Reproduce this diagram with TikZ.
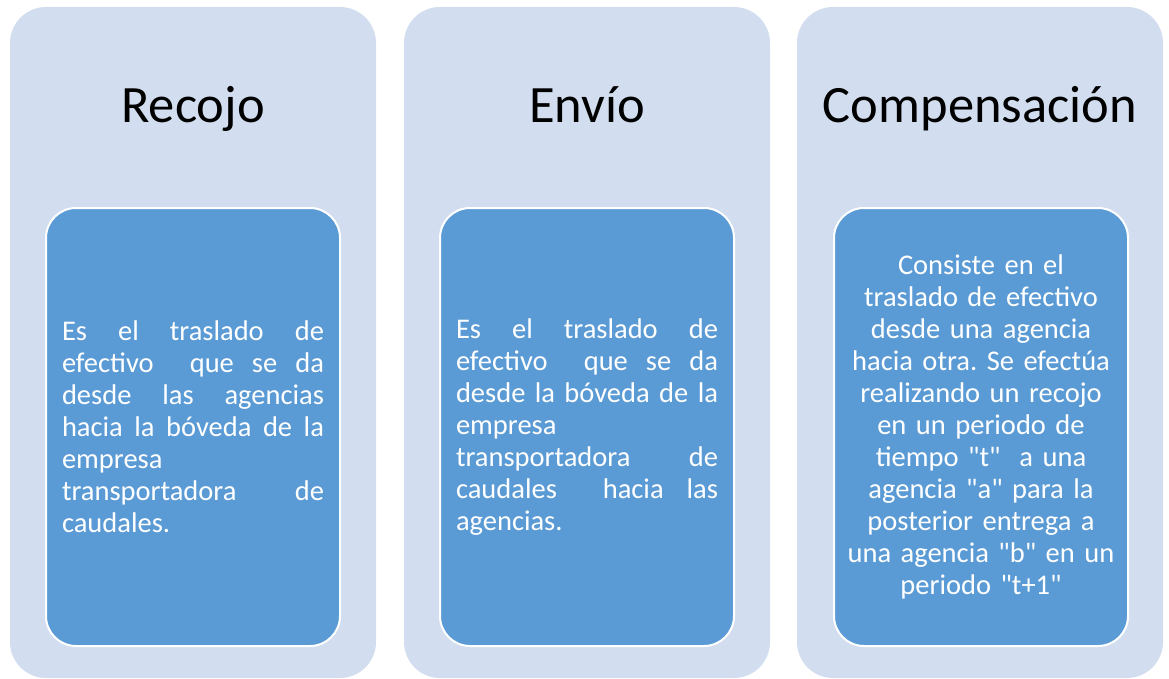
\documentclass[tikz,border=0pt]{standalone}
\usepackage{fontspec}
\setmainfont{Carlito}[Ligatures=TeXOff]
\definecolor{fondo}{HTML}{D2DEEF}
\definecolor{azul}{HTML}{5B9BD5}
\newcommand{\jl}[1]{{\spaceskip=0.25em plus 1fil\xspaceskip=0.25em plus 1fil\makebox[262pt][s]{#1}}}
\newcommand{\dsp}{\hspace{0.5em plus 2fil}}
\tikzset{caja/.style={fill=fondo, rounded corners=36pt, minimum width=366pt, minimum height=671pt, inner sep=0pt},
panel/.style={fill=azul, draw=white, line width=2pt, rounded corners=30pt, minimum width=294pt, minimum height=438pt, inner sep=0pt, text=white, text width=262pt, font=\fontsize{28.5}{32}\selectfont\frenchspacing},
titulo/.style={anchor=base, font=\fontsize{52.5}{60}\selectfont}}
\begin{document}
\begin{tikzpicture}[x=1pt, y=-1pt]
\useasboundingbox (0,0) rectangle (1169,679);
\node[caja] (recojo) at (193,342.5) {};\node[caja] (envio) at (587,342.5) {};\node[caja] (compensacion) at (980,342.5) {};
\node[titulo] (t1) at (193,123) {Recojo};\node[titulo] (t2) at (587,123) {Envío};\node[titulo] (t3) at (980,123) {Compensación};
\node[panel, align=left] (p1) at (193,427) {\jl{Es el traslado de}\\\jl{efectivo\dsp que se da}\\\jl{desde las agencias}\\\jl{hacia la bóveda de la}\\empresa\\\jl{transportadora\dsp de}\\caudales.};
\node[panel, align=left] (p2) at (587,427) {\jl{Es el traslado de}\\\jl{efectivo\dsp que se da}\\\jl{desde la bóveda de la}\\empresa\\\jl{transportadora\dsp de}\\\jl{caudales\dsp hacia las}\\agencias.};
\node[panel, align=center, text width=290pt] (p3) at (981,427) {Consiste en el\\traslado de efectivo\\desde una agencia\\hacia otra. Se efectúa\\realizando un recojo\\en un periodo de\\tiempo "t"\ \ a una\\agencia "a" para la\\posterior entrega a\\una agencia "b" en un\\periodo "t+1"};
\end{tikzpicture}
\end{document}
